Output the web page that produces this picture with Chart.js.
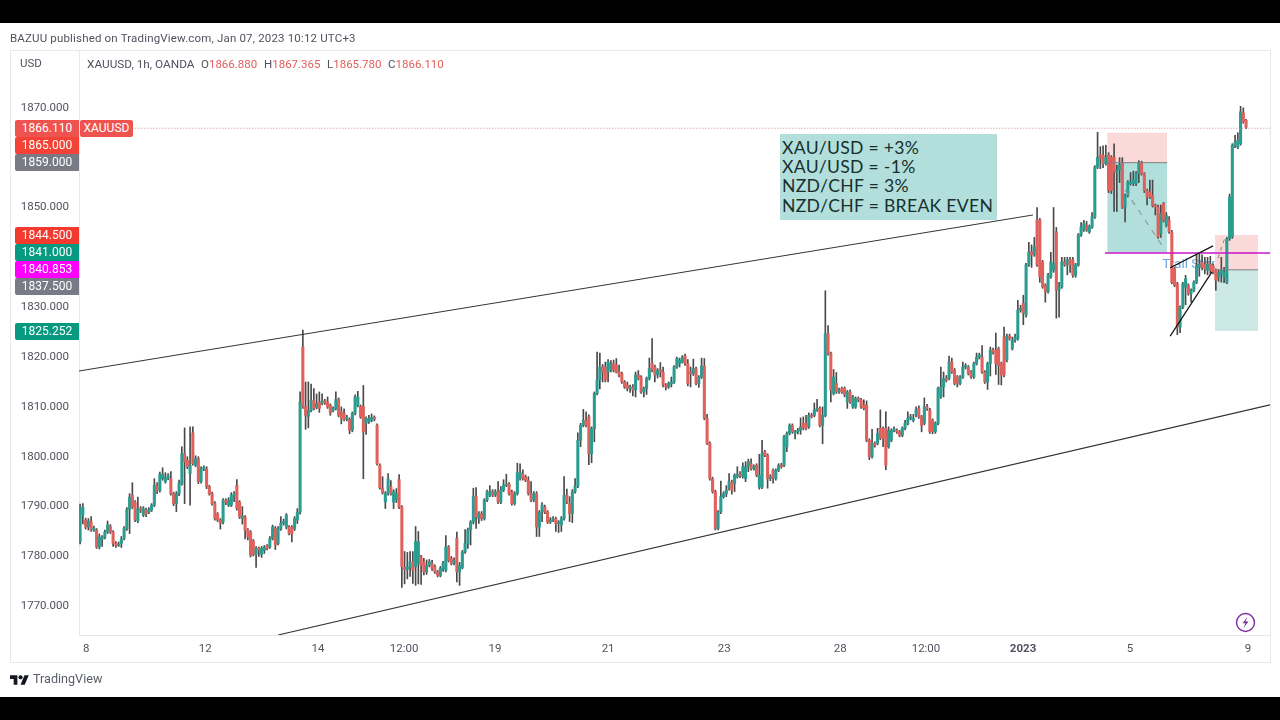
<!DOCTYPE html>
<html>
<head>
<meta charset="utf-8">
<title>XAUUSD</title>
<script src="https://cdn.jsdelivr.net/npm/chart.js@4"></script>
<style>
    html, body { margin: 0; background: #fff; }
    body { position: relative; width: 1280px; height: 720px; overflow: hidden; font-family: Roboto, sans-serif; color: #50535e; }
    canvas { position: absolute; left: 0; top: 0; filter: blur(0.35px); }
    .blackbar { position: absolute; left: 0; width: 1280px; background: #000; }
    .frame { position: absolute; left: 10px; top: 50px; width: 1259px; height: 611px; border: 1px solid #e6e8ee; }
    .txt { position: absolute; white-space: nowrap; font-size: 11.5px; line-height: 14px; }
    .tag { position: absolute; left: 15px; width: 64px; height: 17px; line-height: 17px; text-align: center; color: #fff; font-size: 12px; border-radius: 2px 0 0 2px; }
    .note { position: absolute; left: 780px; top: 134px; width: 217px; height: 86px; background: #b2dfdb; color: #17302e; font: 17.6px/19.2px Lato, sans-serif; letter-spacing: 0.3px; white-space: nowrap; }
    .note div { padding-left: 2px; }
    .red { color: #e0605c; }
</style>
</head>
<body>
<div class="frame"></div>
<canvas id="myChart" width="1280" height="720"></canvas>
<div class="blackbar" style="top:0;height:23px"></div>
<div class="blackbar" style="top:697px;height:23px"></div>
<div class="txt" style="left:10px;top:31px;font-size:11.5px;letter-spacing:0.17px">BAZUU published on TradingView.com, Jan 07, 2023 10:12 UTC+3</div>
<div class="txt" style="left:20px;top:56px">USD</div>
<div class="txt" style="left:87px;top:57px;font-size:11.8px">XAUUSD, 1h, OANDA</div>
<div class="txt" style="left:201px;top:57px">O<span class="red">1866.880</span></div>
<div class="txt" style="left:264px;top:57px">H<span class="red">1867.365</span></div>
<div class="txt" style="left:327px;top:57px">L<span class="red">1865.780</span></div>
<div class="txt" style="left:388px;top:57px">C<span class="red">1866.110</span></div>
<div class="tag" style="left:80px;top:120px;width:53px;background:#ef5350;border-radius:2px">XAUUSD</div>
<div class="note">
    <div style="margin-top:4px">XAU/USD = +3%</div>
    <div>XAU/USD = -1%</div>
    <div>NZD/CHF = 3%</div>
    <div>NZD/CHF = BREAK EVEN</div>
</div>
<svg style="position:absolute;left:1235px;top:612px" width="21" height="21" viewBox="0 0 21 21">
    <circle cx="10.5" cy="10.5" r="9" fill="none" stroke="#7b2d9e" stroke-width="1.4"/>
    <path d="M12.5 5 L7.5 11.2 L10.5 11.2 L8.5 16 L13.5 9.6 L10.5 9.6 Z" fill="#7b2d9e"/>
</svg>
<svg style="position:absolute;left:10px;top:673px" width="19" height="14" viewBox="0 0 36 26">
    <path d="M14 22H7V11H0V4h14v18zM28 22h-8l7.5-18h8L28 22z" fill="#131722"/>
    <circle cx="20" cy="8" r="4" fill="#131722"/>
</svg>
<div class="txt" style="left:33px;top:672px;font-size:12.6px;color:#5a5e69">TradingView</div>

<script>
// Candles, one row = one stretch of the chart
const opens = [
    1782.9,1788.3,1787.3,1785.9,1787.0,1785.3,
    1785.3,1781.9,1783.4,1783.8,1784.9,1786.0,1784.9,1782.6,1782.2,
    1782.6,1783.6,1785.6,1789.4,1792.3,1790.9,1787.1,1789.6,
    1788.3,1789.3,1788.9,1789.3,1790.3,1794.3,1793.2,1795.6,1795.0,1795.8,
    1795.6,1792.6,1790.6,1792.6,1794.6,1800.6,1799.3,1796.6,1804.8,1798.3,1799.6,1795.0,1797.6,
    1797.6,1794.0,1792.6,1790.6,1788.5,1787.3,1786.9,1791.3,
    1790.3,1790.3,1792.1,1794.3,1790.9,1787.6,1787.9,1785.3,1784.9,1783.1,1780.4,1781.6,
    1780.4,1781.2,1782.1,1781.9,1783.6,1785.6,1782.6,1785.5,1786.7,
    1785.9,1785.9,1785.9,1785.6,1787.3,1788.9,1822.0,1810.0,1808.1,1809.3,1811.3,1809.9,1811.0,1810.7,1811.2,
    1811.0,1810.3,1809.3,1809.7,1811.5,1809.0,1808.7,1807.5,
    1807.5,1805.3,1808.7,1810.3,1810.1,1810.1,1806.7,1807.0,1807.3,1807.9,
    1806.3,1798.3,1793.8,1790.9,1792.6,1794.0,1790.9,1791.3,1795.4,1789.9,1777.8,1777.4,1777.8,1778.9,
    1777.9,1778.6,1779.9,1778.9,1776.9,1778.2,1778.6,1777.9,1776.9,1776.2,1777.4,1777.2,1781.9,1779.6,1778.6,
    1783.6,1776.9,1777.8,1780.9,1782.6,1785.3,1786.9,1792.1,1787.6,1788.6,1787.6,1791.3,1792.3,1793.0,1792.3,
    1793.0,1790.9,1793.3,1794.3,1794.5,1793.0,1790.6,1792.6,1795.6,1796.6,1795.9,1795.3,1792.6,1791.3,1792.6,
    1785.9,1788.9,1789.9,1788.9,1786.9,1787.3,1787.6,1786.6,1786.3,1787.6,1792.3,1790.6,1788.6,1793.0,1794.1,
    1803.3,1806.3,1807.3,1808.0,1800.6,1805.6,1812.7,1815.4,1818.0,1818.0,1817.0,1817.4,1818.7,
    1818.4,1817.0,1816.7,1815.0,1814.4,1813.7,1814.0,1813.4,1816.4,1816.0,1813.0,1813.7,1815.7,1818.8,1818.0,1816.4,
    1817.4,1817.0,1814.4,1814.0,1814.6,1815.0,1818.0,1818.7,1819.0,1820.2,1818.7,1817.0,1816.7,1817.7,1814.7,1816.0,1818.2,
    1807.7,1802.7,1795.6,1793.0,1785.6,1788.9,1792.0,1792.6,1793.7,1795.0,1794.6,1796.0,1796.5,
    1796.0,1795.6,1798.0,1798.6,1797.6,
    1798.3,1793.9,1793.9,1801.0,1800.3,1795.6,
    1797.3,1795.6,1797.3,1798.3,
    1798.3,1802.0,1804.7,1806.3,1804.7,1805.0,
    1805.3,1806.7,1806.7,1806.0,1808.3,
    1808.3,1809.4,1809.7,1806.3,1808.3,1824.7,1820.7,1812.7,1814.7,1813.0,
    1813.7,1813.7,1811.0,1813.0,1810.0,1810.0,1811.7,
    1811.4,1810.4,1810.4,1803.3,1800.0,1802.7,
    1802.7,1805.7,1805.7,1805.7,1802.0,1803.3,1805.3,
    1805.3,1805.0,1804.3,1805.7,1806.7,1807.7,
    1807.3,1808.4,1809.7,1808.0,1806.7,1810.0,
    1809.4,1807.3,1805.0,1806.7,1812.0,1814.0,1815.7,
    1815.7,1819.0,1817.4,1816.0,1814.7,1816.0,1818.0,
    1818.0,1817.0,1816.0,1818.7,1820.0,
    1820.0,1817.0,1815.0,1818.7,1821.4,
    1821.4,1821.7,1818.7,1824.0,1819.4,1824.2,
    1821.7,1823.4,1823.7,1829.4,
    1830.8,1828.4,1838.5,1841.1,1840.5,1847.5,1847.5,1839.1,1834.4,1833.1,1836.1,1837.4,1845.1,1833.4,1834.1,1839.1,
    1838.5,1839.5,1839.5,1836.4,1838.5,1844.5,1845.5,1846.5,1845.1,1846.1,1848.1,1858.1,1860.5,1860.5,1858.8,
    1860.5,1860.1,1860.1,1857.1,1857.5,1858.8,1850.1,1852.4,1854.8,1854.8,1854.8,1856.8,1859.0,1856.8,
    1853.4,1853.1,1852.4,1850.4,1850.1,1844.7,1850.8,1846.4,1847.4,1845.1,1837.7,1834.7,1826.0,1830.0,1834.0,1834.4,1832.7,1833.4,1835.0,1838.0,1839.0,1838.7,1837.4,
    1838.7,1838.4,1837.4,1836.0,1836.7,1836.0,1835.0,1843.7,1844.1,1862.5,1862.1,1862.8,1869.0,1867.5
];
const closes = [
    1789.9,1789.8,1785.9,1787.1,1785.3,1785.7,
    1781.9,1783.9,1783.8,1784.9,1786.3,1784.9,1782.6,1782.2,1782.5,
    1783.4,1785.6,1789.4,1791.9,1789.9,1787.3,1789.6,1789.2,
    1789.6,1788.5,1789.4,1790.3,1794.3,1793.2,1796.5,1796.5,1795.8,1796.2,
    1792.6,1790.6,1792.6,1794.8,1800.6,1799.0,1798.0,1798.3,1798.6,1799.6,1795.0,1797.6,1797.9,
    1794.0,1792.6,1790.6,1787.6,1787.3,1786.7,1791.3,1790.8,
    1791.3,1792.3,1792.5,1789.6,1787.9,1788.1,1785.3,1783.9,1780.2,1780.4,1781.6,1781.2,
    1781.6,1781.9,1781.6,1783.6,1785.9,1782.3,1785.6,1786.7,1787.0,
    1788.3,1784.6,1784.5,1787.6,1788.9,1811.0,1810.0,1808.3,1809.3,1811.3,1809.7,1810.7,1809.7,1811.2,1810.8,
    1810.0,1808.8,1809.7,1811.5,1808.3,1807.7,1807.5,1807.9,
    1805.3,1808.7,1812.0,1812.0,1808.0,1805.0,1807.7,1807.7,1807.9,1807.5,
    1798.6,1793.8,1792.8,1792.6,1795.6,1792.6,1793.0,1792.6,1789.9,1777.9,1777.4,1777.9,1778.9,1777.2,
    1783.0,1782.9,1778.2,1776.9,1778.2,1778.9,1777.6,1776.9,1776.2,1777.6,1778.6,1781.9,1779.2,1778.6,1779.2,
    1776.9,1778.2,1780.9,1782.6,1785.3,1786.9,1792.1,1787.9,1788.6,1787.6,1791.3,1793.0,1793.0,1792.3,1793.0,
    1790.9,1793.3,1794.3,1794.5,1792.6,1790.6,1792.6,1796.8,1796.8,1795.6,1795.3,1792.6,1791.3,1792.6,1785.9,
    1788.9,1790.3,1788.9,1786.9,1787.3,1787.6,1786.6,1786.9,1787.6,1792.3,1790.9,1788.6,1793.0,1794.1,1803.3,
    1806.3,1807.3,1806.3,1800.6,1805.6,1812.7,1815.4,1818.0,1817.0,1815.4,1819.0,1818.7,1817.4,
    1817.0,1816.4,1815.0,1814.0,1813.7,1814.0,1813.4,1816.4,1815.7,1813.0,1813.7,1815.7,1817.7,1817.4,1816.4,1817.4,
    1817.0,1814.4,1814.0,1814.7,1815.0,1818.0,1819.7,1819.4,1820.0,1818.7,1814.7,1816.7,1817.7,1814.7,1816.0,1818.2,1807.7,
    1802.7,1795.6,1793.0,1785.6,1788.9,1792.0,1792.6,1793.4,1795.0,1793.3,1796.3,1796.5,1796.2,
    1798.0,1798.0,1799.0,1797.6,1798.0,
    1796.3,1796.3,1800.7,1800.3,1795.6,1796.0,
    1795.6,1797.3,1798.3,1798.0,
    1804.0,1804.7,1806.3,1805.0,1805.0,1805.3,
    1806.0,1805.7,1805.7,1808.3,1808.1,
    1809.4,1809.7,1806.3,1808.3,1824.7,1820.7,1813.4,1816.0,1813.0,1813.4,
    1813.0,1812.4,1813.0,1811.0,1812.0,1811.7,1811.4,
    1810.0,1809.7,1803.3,1800.0,1802.7,1802.3,
    1804.7,1803.7,1803.7,1798.3,1805.3,1805.3,1805.6,
    1805.0,1804.3,1805.7,1806.7,1807.7,1808.0,
    1807.7,1809.4,1808.0,1806.3,1810.0,1809.7,
    1805.0,1805.0,1806.7,1813.7,1814.0,1815.7,1815.4,
    1819.0,1817.0,1814.7,1814.7,1816.0,1818.0,1818.3,
    1816.7,1816.0,1818.7,1820.0,1820.4,
    1817.0,1815.0,1818.7,1821.4,1821.0,
    1818.7,1818.4,1816.4,1816.4,1824.2,1823.8,
    1823.4,1824.0,1829.4,1829.8,
    1828.8,1838.5,1841.1,1840.5,1842.1,1838.5,1836.1,1834.1,1833.1,1836.4,1839.1,1838.8,1833.4,1834.1,1839.1,1838.5,
    1839.5,1838.5,1836.4,1838.5,1844.5,1846.1,1846.8,1845.5,1846.2,1848.1,1858.1,1860.1,1859.8,1858.8,1860.1,
    1853.4,1853.4,1857.1,1857.5,1858.5,1850.1,1852.4,1855.1,1855.1,1855.5,1856.8,1859.1,1856.8,1853.4,
    1852.1,1852.1,1850.4,1850.1,1844.1,1848.8,1847.4,1848.4,1845.1,1835.0,1834.4,1826.0,1830.0,1834.7,1835.7,1832.7,1833.4,1835.0,1838.4,1838.7,1838.0,1837.7,1838.7,
    1837.4,1837.0,1835.4,1837.0,1837.4,1837.0,1843.7,1852.1,1862.5,1863.1,1863.5,1869.2,1867.2,1866.1
];
const highs = [
    1790.5,1790.6,1787.7,1787.6,1788.0,1786.1,
    1785.6,1784.5,1784.2,1785.3,1787.1,1786.4,1785.2,1783.0,1782.9,
    1784.0,1786.0,1789.8,1792.6,1794.8,1791.2,1791.9,1790.0,
    1790.0,1789.7,1789.8,1790.6,1795.6,1794.8,1796.9,1797.8,1796.8,1796.6,
    1797.0,1792.9,1793.0,1795.3,1802.0,1805.8,1800.0,1806.0,1806.0,1800.2,1800.0,1798.0,1798.2,
    1798.0,1794.3,1792.9,1791.0,1788.8,1787.6,1791.6,1791.6,
    1791.8,1792.8,1793.0,1795.4,1791.2,1790.0,1788.2,1785.6,1785.2,1783.4,1782.0,1781.9,
    1782.0,1782.2,1782.4,1784.0,1786.3,1786.0,1786.0,1788.0,1787.5,
    1788.6,1786.2,1786.2,1788.0,1789.6,1813.0,1825.4,1815.0,1815.0,1814.6,1813.7,1812.6,1813.0,1812.6,1811.5,
    1812.0,1810.6,1810.0,1813.0,1811.8,1810.0,1809.6,1808.3,
    1807.8,1809.0,1812.4,1813.1,1810.4,1814.3,1808.0,1808.3,1808.6,1808.2,
    1806.6,1798.6,1796.0,1793.0,1796.6,1795.2,1793.4,1793.6,1796.4,1790.2,1781.0,1780.8,1781.0,1781.0,
    1786.0,1785.0,1780.2,1779.6,1779.3,1779.4,1779.2,1778.3,1777.2,1778.0,1779.0,1784.2,1782.2,1780.0,1779.7,
    1784.9,1778.8,1781.2,1785.4,1785.7,1787.2,1793.7,1793.8,1789.0,1789.0,1791.6,1793.3,1794.2,1793.4,1793.4,
    1795.0,1794.0,1795.4,1796.5,1794.8,1793.3,1793.0,1798.7,1798.6,1797.4,1796.3,1796.0,1795.0,1793.0,1793.0,
    1789.2,1790.8,1790.3,1789.2,1787.8,1788.0,1787.9,1787.2,1788.0,1796.0,1793.5,1792.0,1793.4,1795.6,1804.8,
    1806.7,1809.5,1809.0,1808.4,1806.0,1813.0,1821.0,1820.8,1818.5,1819.0,1819.5,1819.3,1819.4,
    1819.7,1818.4,1817.0,1815.3,1815.0,1814.4,1814.5,1817.0,1817.3,1816.3,1814.0,1816.0,1819.8,1823.7,1818.4,1817.7,
    1818.9,1818.0,1814.7,1815.0,1816.0,1818.3,1820.0,1819.8,1820.3,1820.6,1819.5,1818.0,1819.6,1818.0,1816.3,1819.8,1819.7,
    1808.5,1803.0,1795.9,1793.3,1789.2,1795.1,1793.0,1794.2,1796.6,1795.3,1796.6,1798.0,1797.0,
    1798.8,1799.0,1799.5,1799.6,1798.4,
    1798.6,1800.5,1803.3,1801.3,1800.6,1796.4,
    1797.6,1797.6,1798.6,1798.7,
    1804.3,1805.0,1806.6,1806.6,1805.3,1805.7,
    1807.8,1808.0,1808.3,1808.8,1808.7,
    1810.8,1811.5,1810.0,1810.0,1833.3,1826.3,1821.0,1817.5,1816.9,1813.8,
    1814.0,1814.0,1813.3,1813.4,1812.3,1812.0,1812.0,
    1811.7,1811.4,1811.2,1803.6,1805.5,1803.0,
    1805.7,1809.4,1806.0,1809.0,1806.0,1805.6,1806.0,
    1805.6,1805.3,1806.0,1807.3,1809.0,1808.5,
    1808.5,1810.0,1810.2,1808.3,1811.8,1810.5,
    1809.7,1807.6,1807.0,1814.0,1818.0,1817.0,1816.3,
    1820.2,1819.8,1817.7,1816.3,1816.3,1819.0,1818.7,
    1818.3,1817.3,1819.0,1820.8,1820.8,
    1822.3,1817.3,1819.0,1822.0,1821.8,
    1824.8,1822.0,1819.0,1826.0,1824.6,1824.6,
    1824.0,1824.6,1831.4,1830.4,
    1832.4,1838.8,1843.0,1842.5,1844.0,1850.0,1847.8,1839.4,1834.7,1836.8,1841.0,1850.0,1846.0,1835.0,1840.0,1840.0,
    1840.0,1840.0,1840.0,1838.8,1844.8,1847.0,1847.4,1847.2,1846.5,1849.0,1858.4,1865.1,1862.2,1862.4,1862.5,
    1861.0,1860.4,1862.8,1858.5,1860.0,1860.0,1852.7,1855.4,1857.0,1857.3,1857.2,1859.4,1859.3,1857.0,
    1853.7,1855.5,1855.5,1850.7,1850.5,1850.5,1851.0,1849.0,1848.2,1845.4,1838.0,1835.0,1830.3,1835.0,1836.4,1834.7,1833.7,1835.3,1840.5,1840.7,1840.5,1840.0,1840.0,
    1840.2,1838.7,1837.7,1837.5,1840.0,1838.0,1844.0,1852.7,1862.8,1864.5,1865.0,1870.3,1870.0,1867.7
];
const lows = [
    1782.5,1786.5,1785.5,1785.3,1785.0,1785.0,
    1781.6,1781.5,1782.0,1783.5,1784.6,1784.6,1782.0,1781.8,1782.0,
    1781.8,1783.3,1785.2,1784.6,1789.6,1787.0,1786.8,1788.8,
    1788.0,1788.0,1788.6,1789.0,1790.0,1792.6,1792.9,1795.3,1794.7,1795.4,
    1792.3,1790.2,1789.0,1792.2,1794.3,1790.6,1797.6,1790.3,1798.3,1798.0,1794.6,1794.7,1797.2,
    1793.6,1792.3,1790.3,1787.3,1787.0,1785.5,1786.5,1790.4,
    1790.0,1790.0,1791.0,1789.3,1787.6,1786.5,1783.5,1783.3,1779.9,1780.1,1777.8,1780.0,
    1779.8,1780.6,1781.3,1781.6,1783.3,1781.4,1782.3,1785.2,1786.3,
    1785.5,1784.3,1782.9,1785.2,1786.6,1788.5,1809.7,1805.5,1805.8,1809.0,1809.4,1809.6,1808.9,1810.4,1810.5,
    1809.7,1808.3,1809.0,1809.4,1808.0,1806.6,1807.2,1807.2,
    1804.6,1805.0,1808.4,1810.0,1807.7,1795.6,1804.5,1806.7,1807.0,1807.2,
    1798.3,1793.5,1792.5,1789.6,1792.3,1792.3,1789.6,1790.8,1789.6,1773.8,1774.5,1775.5,1776.0,1774.6,
    1774.2,1774.5,1774.4,1776.3,1776.4,1777.9,1777.2,1776.6,1775.9,1775.9,1777.0,1776.9,1778.9,1778.3,1778.3,
    1774.9,1774.2,1777.5,1780.6,1781.6,1782.3,1786.5,1785.6,1786.6,1787.2,1787.3,1791.0,1792.0,1792.0,1792.0,
    1790.6,1790.6,1793.0,1794.0,1792.3,1790.3,1790.3,1792.3,1795.3,1795.3,1795.0,1792.3,1791.0,1791.0,1784.0,
    1784.0,1787.0,1788.6,1786.6,1786.6,1787.0,1785.0,1784.8,1785.0,1787.3,1790.6,1787.0,1786.8,1792.7,1793.8,
    1802.0,1806.0,1806.0,1798.4,1798.8,1803.0,1812.4,1813.6,1815.0,1815.0,1815.0,1817.0,1817.0,
    1816.8,1816.0,1814.7,1813.7,1813.2,1812.9,1812.2,1812.0,1815.4,1812.7,1812.0,1812.5,1815.4,1817.0,1815.0,1815.8,
    1816.0,1814.0,1813.4,1813.7,1814.0,1814.7,1817.7,1818.0,1818.8,1818.3,1814.2,1814.0,1816.3,1814.4,1813.9,1815.7,1807.4,
    1802.4,1795.3,1792.7,1785.3,1785.3,1788.6,1791.7,1792.0,1793.3,1792.5,1793.0,1795.7,1795.8,
    1795.7,1795.0,1797.0,1797.3,1797.3,
    1796.0,1793.5,1793.6,1800.0,1793.7,1795.2,
    1794.7,1795.3,1797.0,1797.7,
    1798.0,1801.0,1804.4,1804.7,1803.6,1804.6,
    1804.5,1805.4,1805.4,1805.7,1807.8,
    1808.0,1809.1,1806.0,1802.6,1808.0,1820.4,1811.0,1812.4,1812.7,1812.7,
    1812.7,1812.0,1809.7,1810.7,1809.7,1809.7,1811.0,
    1809.7,1809.4,1803.0,1799.4,1799.7,1801.9,
    1802.4,1803.4,1802.0,1797.4,1801.7,1803.0,1805.0,
    1804.7,1804.0,1804.0,1805.4,1806.4,1807.4,
    1807.0,1808.0,1807.7,1805.0,1806.4,1809.3,
    1804.7,1804.6,1804.7,1806.4,1811.7,1812.0,1815.0,
    1815.4,1816.7,1814.4,1814.0,1814.4,1815.7,1817.6,
    1816.4,1815.7,1815.7,1818.4,1819.6,
    1816.7,1814.7,1813.5,1816.2,1820.6,
    1816.5,1814.5,1814.4,1816.0,1819.0,1823.4,
    1821.4,1823.0,1823.4,1829.0,
    1826.5,1828.0,1838.2,1838.0,1840.2,1838.2,1835.0,1833.8,1831.0,1832.8,1835.8,1837.0,1827.8,1828.0,1833.8,1838.2,
    1836.5,1837.0,1836.0,1836.0,1838.2,1844.2,1845.2,1845.2,1844.8,1845.8,1847.8,1857.8,1857.8,1858.0,1858.5,
    1853.0,1852.8,1849.2,1849.2,1855.0,1849.8,1847.1,1852.1,1854.5,1854.4,1854.4,1855.0,1856.5,1853.0,
    1850.5,1851.8,1850.1,1848.5,1843.8,1844.0,1847.1,1846.1,1844.8,1834.7,1834.1,1824.5,1824.9,1829.7,1830.5,1832.4,1831.0,1833.1,1834.7,1836.2,1837.5,1836.7,1836.5,
    1836.8,1836.7,1833.4,1835.2,1835.0,1834.9,1834.7,1843.4,1843.8,1862.0,1861.8,1862.5,1866.9,1865.8
];

// Axis ticks
const priceTicks = [1770, 1780, 1790, 1800, 1810, 1820, 1830, 1840, 1850, 1860, 1870];
const timeLabels = ["8", "12", "14", "12:00", "19", "21", "23", "28", "12:00", "2023", "5", "9"];
const timeBars = [2.2, 45.5, 86.5, 117.8, 150.9, 192, 234.2, 276.4, 307.6, 342.9, 381.8, 424.7];

// Drawings: x in bars, y in price
const upperTrend = [[-0.4, 1817.2], [346.5, 1848.5]];
const lowerTrend = [[72, 1764.24], [432.7, 1810.4]];
const wedgeUpper = [[396.4, 1837.9], [412, 1842.3]];
const wedgeLower = [[396.4, 1824.2], [411.6, 1837.1]];
const stopPath1 = [[380, 1853.5], [394.5, 1841.5]];
const stopPath2 = [[413.8, 1839.8], [416.4, 1844.1]];
const lastPriceLine = [[19, 1865.9], [432.7, 1865.9]];
const magentaLine = [[372.7, 1840.853], [432.7, 1840.853]];
const shortBars = [373.5, 395.3];
const shortLevels = [1865, 1859, 1841];
const longBars = [412.7, 428.4];
const longLevels = [1844.5, 1837.5, 1825.252];

// Price tags on the axis
const tagLabels = ["1866.110", "1865.000", "1859.000", "1844.500", "1841.000", "1840.853", "1837.500", "1825.252"];
const tagColors = ["#ef5350", "#f44336", "#787b86", "#f23a2f", "#089981", "#ff00ff", "#787b86", "#089981"];
const tagTops = [120, 137, 154, 227, 244, 261, 278, 323];

tagLabels.forEach((label, i) => {
    const tag = document.createElement("div");
    tag.className = "tag";
    tag.textContent = label;
    tag.style.top = tagTops[i] + "px";
    tag.style.background = tagColors[i];
    document.body.appendChild(tag);
});

const TEAL = "#2a9d90";
const RED = "#e0605c";

function lineSet(points, color, width, order, dash) {
    return {
        type: "line",
        data: points.map(p => ({ x: p[0], y: p[1] })),
        borderColor: color,
        borderWidth: width,
        borderDash: dash || [],
        pointRadius: 0,
        order: order
    };
}

function boxSet(bars, top, bottom, color) {
    return {
        type: "line",
        data: bars.map(x => ({ x: x, y: top })),
        borderWidth: 0,
        pointRadius: 0,
        backgroundColor: color,
        fill: { value: bottom },
        order: 9
    };
}

const trailStopText = {
    id: "trailStopText",
    beforeDatasetsDraw(chart) {
        const ctx = chart.ctx;
        ctx.save();
        ctx.font = "13.5px Roboto";
        ctx.fillStyle = "#6ea6dc";
        ctx.fillText("Trail Stop", chart.scales.x.getPixelForValue(393.5), chart.scales.y.getPixelForValue(1837.9));
        ctx.restore();
    }
};

const ctx = document.getElementById("myChart").getContext("2d");
new Chart(ctx, {
    type: "bar",
    data: {
        datasets: [
            boxSet(shortBars, shortLevels[0], shortLevels[1], "#fbd9d8"),
            boxSet(shortBars, shortLevels[1], shortLevels[2], "#b2dfdb"),
            boxSet(longBars, longLevels[0], longLevels[1], "#fbd9d8"),
            boxSet(longBars, longLevels[1], longLevels[2], "#cce9e6"),
            {
                data: opens.map((o, i) => ({ x: i, y: [lows[i], highs[i]] })),
                backgroundColor: "#4a4a4a",
                barThickness: 1,
                grouped: false,
                order: 8
            },
            {
                data: opens.map((o, i) => ({ x: i, y: [o, closes[i]] })),
                backgroundColor: opens.map((o, i) => closes[i] >= o ? TEAL : RED),
                barThickness: 2.4,
                minBarLength: 1,
                grouped: false,
                order: 7
            },
            lineSet(shortBars.map(x => [x, shortLevels[1]]), "#808080", 1, 6),
            lineSet(longBars.map(x => [x, longLevels[1]]), "#808080", 1, 6),
            lineSet(stopPath1, "#8a9a9a", 1.2, 6, [6, 6]),
            lineSet(stopPath2, "#8a9a9a", 1.2, 6, [4, 4]),
            lineSet(lastPriceLine, "#c98a88", 1, 5, [1, 2]),
            lineSet(magentaLine, "#c814c8", 1.5, 4),
            lineSet(upperTrend, "#333", 1, 3),
            lineSet(lowerTrend, "#333", 1.1, 3),
            lineSet(wedgeUpper, "#111", 1.2, 3),
            lineSet(wedgeLower, "#111", 1.2, 3)
        ]
    },
    options: {
        responsive: false,
        animation: false,
        events: [],
        layout: { padding: { left: 10, right: 10, top: 50, bottom: 58 } },
        plugins: { legend: { display: false }, tooltip: { enabled: false } },
        scales: {
            x: {
                type: "linear",
                min: -0.4,
                max: 432.7,
                offset: false,
                grid: { display: false, drawTicks: false },
                border: { color: "#e6e8ee" },
                afterFit: s => { s.height = 27; },
                afterBuildTicks: s => { s.ticks = timeBars.map(v => ({ value: v })); },
                ticks: {
                    autoSkip: false,
                    maxRotation: 0,
                    padding: 7,
                    color: "#50535e",
                    font: c => ({ family: "Roboto", size: 11.5, weight: c.index === 9 ? "bold" : "normal" }),
                    callback: (value, i) => timeLabels[i]
                }
            },
            y: {
                min: 1764.24,
                max: 1881.6,
                grid: { display: false, drawTicks: false },
                border: { color: "#e6e8ee" },
                afterFit: s => { s.width = 69; },
                afterBuildTicks: s => { s.ticks = priceTicks.map(v => ({ value: v })); },
                ticks: {
                    autoSkip: false,
                    padding: 10,
                    color: "#50535e",
                    font: { family: "Roboto", size: 11.5 },
                    callback: value => value.toFixed(3)
                }
            }
        }
    },
    plugins: [trailStopText]
});
</script>
</body>
</html>
